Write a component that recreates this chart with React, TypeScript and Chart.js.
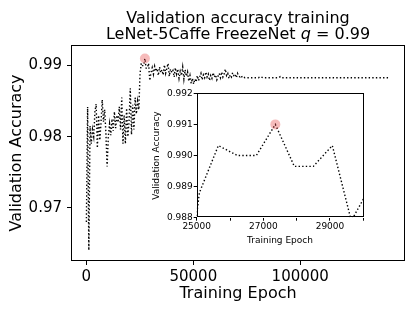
import React, { useEffect, useRef } from "react";
import { Chart, registerables } from "chart.js";

Chart.register(...registerables);

const FONT = '"DejaVu Sans", "Liberation Sans", sans-serif';

// ---- data ----
const EVAL_STEP = 570; // epochs between validation evaluations
const valAcc = [
  0.968, 0.9842, 0.964, 0.9815, 0.979, 0.981, 0.98, 0.9835, 0.9846, 0.9784,
  0.983, 0.9795, 0.982, 0.9852, 0.9821, 0.9838, 0.9805, 0.9758, 0.98, 0.9818,
  0.9802, 0.9825, 0.9808, 0.9835, 0.9812, 0.983, 0.982, 0.9842, 0.981, 0.9855,
  0.979, 0.983, 0.979, 0.984, 0.98, 0.9822, 0.9868, 0.9803, 0.9845, 0.981,
  0.9855, 0.9832, 0.985, 0.9838, 0.9888, 0.99032, 0.99, 0.99, 0.991, 0.98965,
  0.98965, 0.99032, 0.9879, 0.989,
  0.9897, 0.9888, 0.9899, 0.9892, 0.9896, 0.9886, 0.9898, 0.989, 0.9894, 0.9887,
  0.9901, 0.9889, 0.9896, 0.9903, 0.9885, 0.9895, 0.989,
  0.9893, 0.9884, 0.9897, 0.9888, 0.9895, 0.9882, 0.9892, 0.9886, 0.9898, 0.9881,
  0.9894, 0.9885, 0.9891, 0.9878, 0.9886, 0.9875, 0.9882, 0.9874,
  0.9881, 0.9877, 0.9886, 0.9879, 0.9884, 0.9889, 0.988, 0.9887, 0.9883, 0.9891,
  0.9884, 0.9888, 0.9879, 0.9886, 0.9882, 0.989, 0.9884, 0.9887, 0.988, 0.9885,
  0.9889, 0.9883,
  0.9891, 0.9884, 0.9888, 0.9895, 0.9886, 0.9889, 0.9882, 0.9887, 0.9884, 0.989,
  0.9886, 0.9888, 0.9883, 0.9889, 0.9885, 0.9884, 0.9886, 0.9883, 0.9884, 0.9883,
  0.9883,
];
const tailEpochs = [77000, 80500, 81500, 82500, 90000, 90700, 91500, 141360];
const tailAcc = [0.9883, 0.9883, 0.98845, 0.9883, 0.9883, 0.98845, 0.9883, 0.9883];

const bestEpoch = [27360];
const bestAcc = [0.991];

const mainXTicks = [0, 50000, 100000];
const mainYTicks = [0.97, 0.98, 0.99];
const insetXTicks = [25000, 26000, 27000, 28000, 29000, 30000];
const insetXLabeled = [25000, 27000, 29000];
const insetYTicks = [0.988, 0.989, 0.99, 0.991, 0.992];

const TITLE_LINE_1 = "Validation accuracy training";
const TITLE_LINE_2 = "LeNet-5Caffe FreezeNet ";
const TITLE_VAR = "q";
const TITLE_VALUE = " = 0.99";
const X_LABEL = "Training Epoch";
const Y_LABEL = "Validation Accuracy";

function buildPoints() {
  const pts = valAcc.map((v, i) => ({ x: i * EVAL_STEP, y: v }));
  tailEpochs.forEach((e, i) => pts.push({ x: e, y: tailAcc[i] }));
  return pts;
}

const spinePlugin = {
  id: "spines",
  afterDraw(chart: any) {
    const { ctx, chartArea: a } = chart;
    ctx.save();
    ctx.strokeStyle = "#000";
    ctx.lineWidth = 1;
    ctx.strokeRect(Math.round(a.left) + 0.5, Math.round(a.top) + 0.5, Math.round(a.right - a.left) - 1, Math.round(a.bottom - a.top) - 1);
    ctx.restore();
  },
};

const whiteAreaPlugin = {
  id: "whiteArea",
  beforeDraw(chart: any) {
    const { ctx, chartArea: a } = chart;
    ctx.save();
    ctx.fillStyle = "#fff";
    ctx.fillRect(a.left, a.top, a.right - a.left, a.bottom - a.top);
    ctx.restore();
  },
};

const titlePlugin = {
  id: "mtitle",
  afterDraw(chart: any) {
    const { ctx, chartArea: a } = chart;
    const cx = (a.left + a.right) / 2;
    ctx.save();
    ctx.fillStyle = "#000";
    ctx.textBaseline = "alphabetic";
    ctx.font = `16px ${FONT}`;
    ctx.textAlign = "center";
    ctx.fillText(TITLE_LINE_1, cx, 22.5);
    ctx.textAlign = "left";
    const w1 = ctx.measureText(TITLE_LINE_2).width;
    const w3 = ctx.measureText(TITLE_VALUE).width;
    ctx.font = `italic 16px ${FONT}`;
    const w2 = ctx.measureText(TITLE_VAR).width;
    let x = cx - (w1 + w2 + w3) / 2;
    ctx.font = `16px ${FONT}`;
    ctx.fillText(TITLE_LINE_2, x, 38.5);
    x += w1;
    ctx.font = `italic 16px ${FONT}`;
    ctx.fillText(TITLE_VAR, x, 38.5);
    x += w2;
    ctx.font = `16px ${FONT}`;
    ctx.fillText(TITLE_VALUE, x, 38.5);
    ctx.restore();
  },
};

function lineDataset(points: any[]) {
  return {
    type: "line",
    data: points,
    borderColor: "#000",
    borderWidth: 1.4,
    borderDash: [1.4, 2.2],
    borderCapStyle: "butt",
    pointRadius: 0,
    tension: 0,
    fill: false,
    order: 2,
  };
}

function markerDataset(r: number) {
  return {
    type: "scatter",
    data: bestEpoch.map((e, i) => ({ x: e, y: bestAcc[i] })),
    backgroundColor: "rgba(230,60,60,0.35)",
    borderWidth: 0,
    pointRadius: r,
    order: 1,
  };
}

export default function App() {
  const mainRef = useRef<HTMLCanvasElement>(null);
  const insetRef = useRef<HTMLCanvasElement>(null);

  useEffect(() => {
    const points = buildPoints();
    const mainChart = new Chart(mainRef.current as HTMLCanvasElement, {
      type: "line",
      data: { datasets: [markerDataset(5) as any, lineDataset(points) as any] },
      options: {
        responsive: false,
        animation: false,
        devicePixelRatio: 1,
        events: [],
        layout: { padding: { top: 45, right: 10, left: 0, bottom: 0 } },
        plugins: { legend: { display: false }, tooltip: { enabled: false }, title: { display: false } },
        scales: {
          x: {
            type: "linear",
            min: -7200,
            max: 149000,
            afterBuildTicks: (s: any) => {
              s.ticks = mainXTicks.map((v) => ({ value: v }));
            },
            afterFit: (s: any) => {
              s.height = 51;
            },
            ticks: { color: "#000", font: { family: FONT, size: 15 }, padding: 3, maxRotation: 0, callback: (v: any) => String(v) },
            grid: { drawOnChartArea: false, drawTicks: true, tickLength: 4, color: "#000", tickWidth: 1 },
            border: { display: false },
            title: { display: true, text: X_LABEL, color: "#000", font: { family: FONT, size: 16 }, padding: { top: 0, bottom: 8.4 } },
          },
          y: {
            type: "linear",
            min: 0.9625,
            max: 0.9929,
            afterBuildTicks: (s: any) => {
              s.ticks = mainYTicks.map((v) => ({ value: v }));
            },
            afterFit: (s: any) => {
              s.width = 71;
            },
            ticks: { color: "#000", font: { family: FONT, size: 15 }, padding: 5, callback: (v: any) => Number(v).toFixed(2) },
            grid: { drawOnChartArea: false, drawTicks: true, tickLength: 4, color: "#000", tickWidth: 1 },
            border: { display: false },
            title: { display: true, text: Y_LABEL, color: "#000", font: { family: FONT, size: 16 }, padding: { top: 7.4, bottom: 0 } },
          },
        },
      } as any,
      plugins: [spinePlugin, titlePlugin],
    });

    const insetChart = new Chart(insetRef.current as HTMLCanvasElement, {
      type: "line",
      data: { datasets: [markerDataset(5) as any, lineDataset(points) as any] },
      options: {
        responsive: false,
        animation: false,
        devicePixelRatio: 1,
        events: [],
        layout: { padding: { top: 8.3, right: 6.7, left: 0, bottom: 0 } },
        plugins: { legend: { display: false }, tooltip: { enabled: false }, title: { display: false } },
        scales: {
          x: {
            type: "linear",
            min: 25000,
            max: 30000,
            afterBuildTicks: (s: any) => {
              s.ticks = insetXTicks.map((v) => ({ value: v }));
            },
            afterFit: (s: any) => {
              s.height = 32.3;
            },
            ticks: {
              color: "#000",
              font: { family: FONT, size: 9 },
              padding: 1,
              maxRotation: 0,
              autoSkip: false,
              callback: (v: any) => (insetXLabeled.includes(Number(v)) ? String(v) : ""),
            },
            grid: { drawOnChartArea: false, drawTicks: true, tickLength: 3, color: "#000", tickWidth: 1 },
            border: { display: false },
            title: { display: true, text: X_LABEL, color: "#000", font: { family: FONT, size: 9 }, padding: { top: 0, bottom: 3.6 } },
          },
          y: {
            type: "linear",
            min: 0.988,
            max: 0.992,
            afterBuildTicks: (s: any) => {
              s.ticks = insetYTicks.map((v) => ({ value: v }));
            },
            afterFit: (s: any) => {
              s.width = 56.7;
            },
            ticks: { color: "#000", font: { family: FONT, size: 9 }, padding: 1, callback: (v: any) => Number(v).toFixed(3) },
            grid: { drawOnChartArea: false, drawTicks: true, tickLength: 3, color: "#000", tickWidth: 1 },
            border: { display: false },
            title: { display: true, text: Y_LABEL, color: "#000", font: { family: FONT, size: 9 }, padding: { top: 11.3, bottom: 0 } },
          },
        },
      } as any,
      plugins: [whiteAreaPlugin, spinePlugin],
    });

    return () => {
      mainChart.destroy();
      insetChart.destroy();
    };
  }, []);

  return (
    <div style={{ position: "fixed", left: 0, top: 0, width: 415, height: 312, background: "#fff" }}>
      <canvas ref={mainRef} width={415} height={312} style={{ position: "absolute", left: 0, top: 0, width: 415, height: 312 }} />
      <canvas ref={insetRef} width={230} height={165} style={{ position: "absolute", left: 140, top: 85, width: 230, height: 165 }} />
    </div>
  );
}
